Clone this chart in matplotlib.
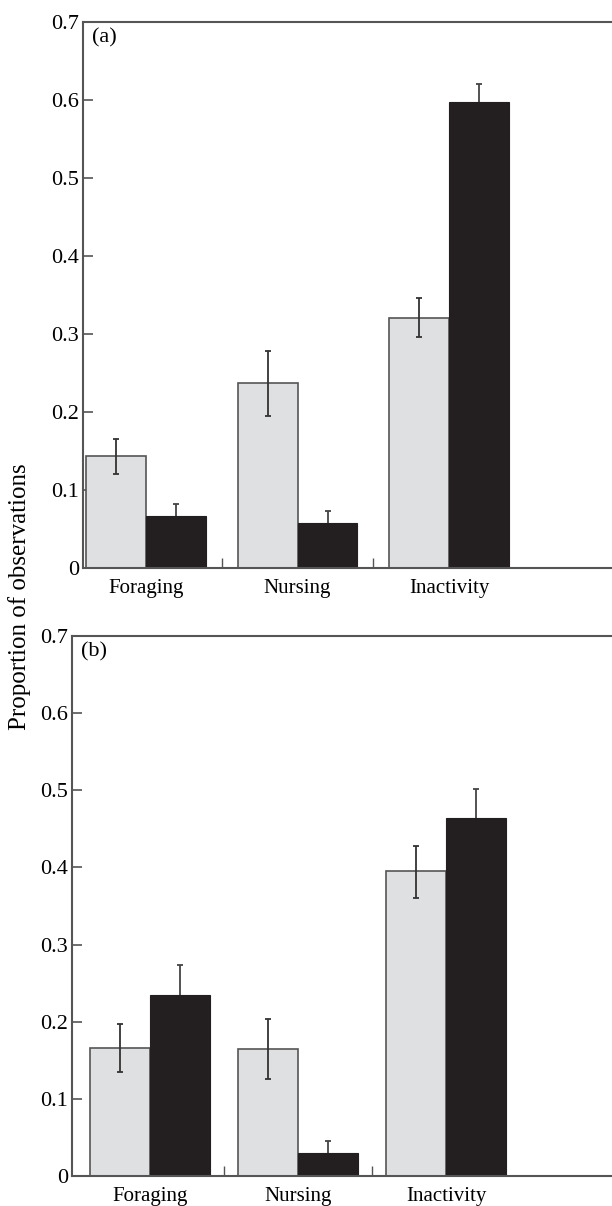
import numpy as np
import matplotlib
matplotlib.use("Agg")
import matplotlib.pyplot as plt

# Данные
categories = ["Foraging", "Nursing", "Inactivity"]

a_light = [0.143, 0.237, 0.321]
a_light_lo = [0.120, 0.195, 0.296]
a_light_hi = [0.166, 0.278, 0.346]
a_dark = [0.067, 0.058, 0.598]
a_dark_hi = [0.082, 0.073, 0.620]

b_light = [0.166, 0.164, 0.396]
b_light_lo = [0.135, 0.126, 0.361]
b_light_hi = [0.197, 0.203, 0.428]
b_dark = [0.235, 0.030, 0.464]
b_dark_hi = [0.273, 0.045, 0.502]

yticks = [0, 0.1, 0.2, 0.3, 0.4, 0.5, 0.6, 0.7]
ytick_labels = ["0", "0.1", "0.2", "0.3", "0.4", "0.5", "0.6", "0.7"]

plt.rcParams['font.family'] = ['Liberation Serif', 'DejaVu Serif']

light_col = "#dfe0e2"
dark_col = "#231f20"
edge_col = "#555555"
spine_col = "#555555"

W, H = 612, 1206
fig = plt.figure(figsize=(W / 100, H / 100), dpi=100)


def panel(rect, xlim, light, light_lo, light_hi, dark, dark_hi, label, width):
    ax = fig.add_axes(rect)
    x = np.arange(len(categories))
    ax.bar(x - width / 2, light, width, color=light_col, edgecolor=edge_col,
           linewidth=1.2, zorder=2)
    ax.bar(x + width / 2, dark, width, color=dark_col, edgecolor=dark_col,
           linewidth=0.8, zorder=2)
    light = np.array(light)
    ax.errorbar(x - width / 2, light,
                yerr=[light - np.array(light_lo), np.array(light_hi) - light],
                fmt="none", ecolor="#333333", elinewidth=1.3, capsize=2.2,
                capthick=1.3, zorder=3)
    # у тёмных столбцов нижняя половина скрыта под столбцом
    dark = np.array(dark)
    ax.errorbar(x + width / 2, dark, yerr=np.array(dark_hi) - dark,
                fmt="none", ecolor="#444444", elinewidth=1.3, capsize=2.2,
                capthick=1.3, zorder=1.5)
    ax.set_xlim(*xlim)
    ax.set_ylim(0, 0.7)
    ax.set_yticks(yticks)
    ax.set_yticklabels(ytick_labels)
    ax.set_xticks(x)
    ax.set_xticklabels(categories)
    ax.set_xticks([0.5, 1.5], minor=True)
    ax.tick_params(axis="x", which="major", length=0, labelsize=15, pad=8)
    ax.tick_params(axis="x", which="minor", direction="in", length=7,
                   width=1, color=spine_col)
    ax.tick_params(axis="y", direction="in", length=7, width=1.2,
                   color=spine_col, labelsize=16, pad=3)
    for s in ["left", "top", "bottom"]:
        ax.spines[s].set_color(spine_col)
        ax.spines[s].set_linewidth(1.5)
    ax.spines["right"].set_visible(False)
    ax.text(0.017, 0.988, label, transform=ax.transAxes, fontsize=16,
            va="top", ha="left")
    return ax


# Панель (a)
panel([83 / W, (H - 568) / H, (W - 83) / W, 546 / H], (-0.416, 3.076),
      a_light, a_light_lo, a_light_hi, a_dark, a_dark_hi, "(a)", 0.396)

# Панель (b)
panel([72 / W, (H - 1176) / H, (W - 72) / W, 540 / H], (-0.527, 3.122),
      b_light, b_light_lo, b_light_hi, b_dark, b_dark_hi, "(b)", 0.405)

fig.text(20 / W, 1 - 597 / H, "Proportion of observations", rotation=90,
         ha="center", va="center", fontsize=18)

fig.savefig("out.png", dpi=100)
